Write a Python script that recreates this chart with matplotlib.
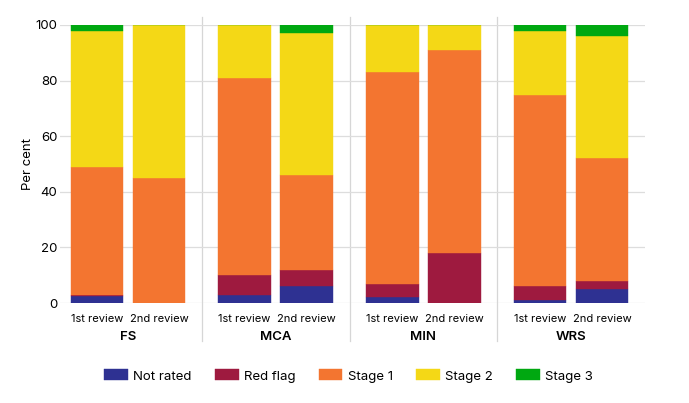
import matplotlib.pyplot as plt
import numpy as np

plt.rcParams["font.family"] = ["Inter", "DejaVu Sans"]

groups = ["FS", "MCA", "MIN", "WRS"]
reviews = ["1st review", "2nd review"]
series = ["Not rated", "Red flag", "Stage 1", "Stage 2", "Stage 3"]
colors = ["#2E3192", "#9E1A3F", "#F37530", "#F4D816", "#00A811"]

# per bar order: FS 1st, FS 2nd, MCA 1st, MCA 2nd, MIN 1st, MIN 2nd, WRS 1st, WRS 2nd
not_rated = [2.5, 0, 3, 6, 2, 0, 1, 5]
red_flag = [0.3, 0, 7, 6, 5, 18, 5, 3]
stage1 = [46.2, 45, 71, 34, 76, 73, 69, 44]
stage2 = [49, 55, 19, 51, 17, 9, 23, 44]
stage3 = [2, 0, 0, 3, 0, 0, 2, 4]
values = [not_rated, red_flag, stage1, stage2, stage3]

fig = plt.figure(figsize=(6.89, 4.03), dpi=100)
ax = fig.add_axes([60 / 689, 0.248, 585 / 689, 0.69])

offset, width = 0.21, 0.355
x = np.array([g + 0.5 + s * offset for g in range(len(groups)) for s in (-1, 1)])

bottom = np.zeros(len(x))
for name, vals, col in zip(series, values, colors):
    vals = np.array(vals, dtype=float)
    ax.bar(x, vals, width, bottom=bottom, color=col, label=name,
           edgecolor=col, linewidth=0.3, zorder=3)
    bottom += vals

ax.set_xlim(0.04, len(groups))
ax.set_ylim(0, 100)
ax.set_yticks([0, 20, 40, 60, 80, 100])
ax.grid(axis="y", color="#dddddd", linewidth=0.9, zorder=0)
for s in ax.spines.values():
    s.set_visible(False)
ax.tick_params(axis="y", length=0, labelsize=9.5, pad=2)
ax.set_ylabel("Per cent", fontsize=9.5, labelpad=1)

ax.set_xticks(x)
ax.set_xticklabels(reviews * len(groups), fontsize=8)
ax.tick_params(axis="x", length=0, pad=8)

for g, name in enumerate(groups):
    ax.text(g + 0.5, -0.1, name, transform=ax.get_xaxis_transform(),
            ha="center", va="top", fontsize=9.5, fontweight="semibold")
for g in range(1, len(groups)):
    ax.plot([g, g], [-0.135, 1.03], transform=ax.get_xaxis_transform(),
            color="#d6d6d6", linewidth=0.9, clip_on=False, zorder=1)

fig.legend(loc="center", bbox_to_anchor=(0.506, 0.067), ncol=5, frameon=False,
           fontsize=9.5, handlelength=1.8, handleheight=0.9, columnspacing=1.75,
           handletextpad=0.4)

fig.savefig("out.png", dpi=100)
